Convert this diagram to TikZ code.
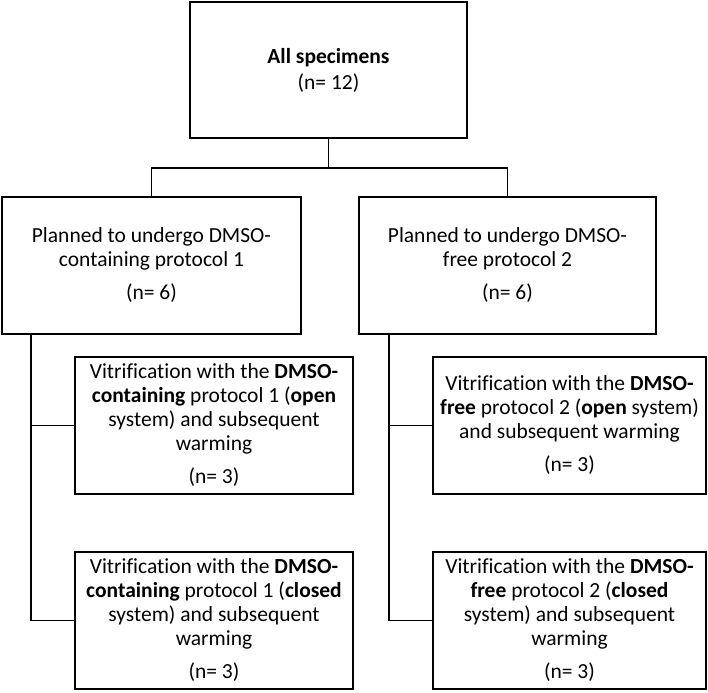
\documentclass[tikz,border=0pt]{standalone}
\usepackage{fontspec}
\setmainfont{Carlito}[Ligatures=NoCommon]
\tikzset{
  box/.style={draw, line width=1.2pt, align=center, inner sep=0pt,
    font=\fontsize{21.5}{24}\selectfont, minimum height=137},
  link/.style={line width=1.2pt}
}
\begin{document}
\begin{tikzpicture}[x=1pt, y=-1pt]
    \useasboundingbox (0,0) rectangle (708,692);
    %nodes
    \node[box, minimum width=277, minimum height=136] at (328.5,70) (all) {\textbf{All specimens}\\[2pt](n= 12)};
    \node[box, minimum width=299] at (151.5,265.5) (plan1) {Planned to undergo DMSO-\\containing protocol 1\\[9pt](n= 6)};
    \node[box, minimum width=297] at (507.5,265.5) (plan2) {Planned to undergo DMSO-\\free protocol 2\\[9pt](n= 6)};
    \node[box, minimum width=278] at (214,425.5) (vit1o) {Vitrification with the \textbf{DMSO-}\\\textbf{containing} protocol 1 (\textbf{open}\\system) and subsequent\\warming\\[9pt](n= 3)};
    \node[box, minimum width=278] at (214,620.5) (vit1c) {Vitrification with the \textbf{DMSO-}\\\textbf{containing} protocol 1 (\textbf{closed}\\system) and subsequent\\warming\\[9pt](n= 3)};
    \node[box, minimum width=273] at (569.5,425.5) (vit2o) {Vitrification with the \textbf{DMSO-}\\\textbf{free} protocol 2 (\textbf{open} system)\\and subsequent warming\\[9pt](n= 3)};
    \node[box, minimum width=273] at (569.5,620.5) (vit2c) {Vitrification with the \textbf{DMSO-}\\\textbf{free} protocol 2 (\textbf{closed}\\system) and subsequent\\warming\\[9pt](n= 3)};
    %trunks
    \coordinate (t1) at (31,0);
    \coordinate (t2) at (389,0);
    \draw[link] (all.south) -- ++(0,29.5) coordinate (split);
    \draw[link] (split) -| (plan1.north);
    \draw[link] (split) -| (plan2.north);
    \draw[link] (plan1.south -| t1) |- (vit1o.west);
    \draw[link] (plan1.south -| t1) |- (vit1c.west);
    \draw[link] (plan2.south -| t2) |- (vit2o.west);
    \draw[link] (plan2.south -| t2) |- (vit2c.west);
\end{tikzpicture}
\end{document}
